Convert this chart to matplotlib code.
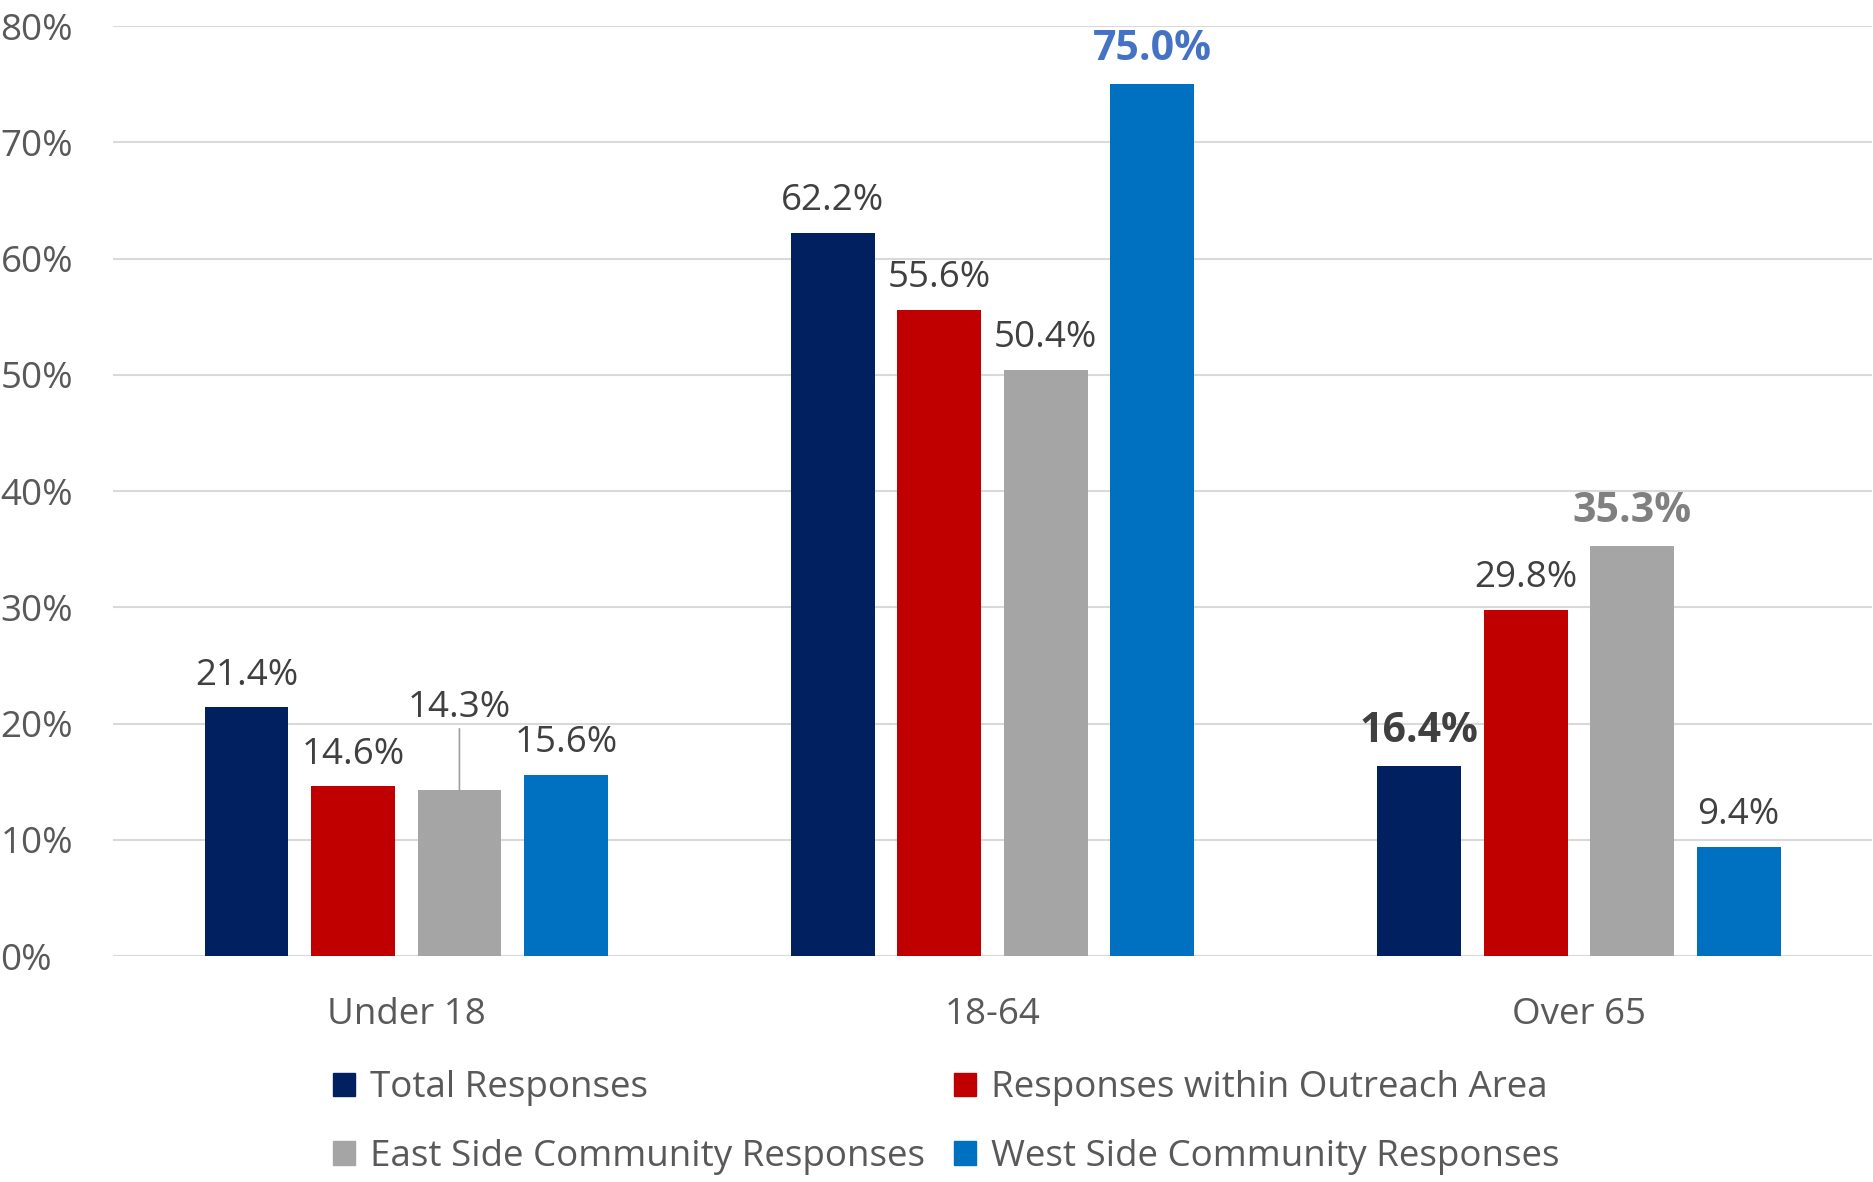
import matplotlib
matplotlib.use("Agg")
import matplotlib.pyplot as plt
from matplotlib.patches import Patch
import numpy as np

plt.rcParams['font.family'] = ['Open Sans', 'DejaVu Sans']

categories = ["Under 18", "18-64", "Over 65"]
series_names = ["Total Responses", "Responses within Outreach Area",
                "East Side Community Responses", "West Side Community Responses"]
total = [21.4, 62.2, 16.4]
outreach = [14.6, 55.6, 29.8]
east = [14.3, 50.4, 35.3]
west = [15.6, 75.0, 9.4]
yticks = [0, 10, 20, 30, 40, 50, 60, 70, 80]

series = [total, outreach, east, west]
colors = ["#002060", "#C00000", "#A5A5A5", "#0070C0"]

fig = plt.figure(figsize=(18.74, 11.82), dpi=100)
ax = fig.add_axes([0.0603, 0.191, 0.9387, 0.787])

x = np.arange(len(categories))
pitch = 0.1816
width = 0.143
label_col = "#404040"
fs = 26.5
bfs = 29.5
for i, (vals, c) in enumerate(zip(series, colors)):
    xs = x + (i - 1.5) * pitch
    ax.bar(xs, vals, width, color=c, zorder=3)
    for j, (xx, v) in enumerate(zip(xs, vals)):
        txt = f"{v:.1f}%"
        kw = dict(ha='center', va='bottom', fontsize=fs, color=label_col)
        if i == 3 and j == 1:
            kw.update(fontsize=bfs, fontweight='bold', color="#4472C4")
        elif i == 2 and j == 2:
            kw.update(fontsize=bfs, fontweight='bold', color="#808080")
        elif i == 0 and j == 2:
            kw.update(fontsize=bfs, fontweight='bold', color="#404040")
        if i == 2 and j == 0:
            ax.annotate(txt, xy=(xx, v), xytext=(xx, v + 5.5),
                        textcoords='data', ha='center', va='bottom',
                        fontsize=fs, color=label_col,
                        arrowprops=dict(arrowstyle='-', color='#A0A0A0', lw=1.2,
                                        shrinkA=0, shrinkB=0))
        else:
            ax.annotate(txt, xy=(xx, v), xytext=(0, 10), textcoords='offset points', **kw)

ax.set_xlim(-0.5, 2.5)
ax.set_ylim(0, 80)
ax.set_yticks(yticks)
ax.set_yticklabels([f"{t}%" for t in yticks])
ax.set_xticks(x)
ax.set_xticklabels(categories)
ax.tick_params(axis='y', length=0, labelsize=fs, labelcolor="#595959", pad=81)
ax.tick_params(axis='x', length=0, labelsize=fs, labelcolor="#595959", pad=29)
for lab in ax.get_yticklabels():
    lab.set_horizontalalignment('left')
ax.grid(axis='y', color='#D9D9D9', lw=1.5, zorder=0)
for s in ax.spines.values():
    s.set_visible(False)
ax.axhline(0, color='#D9D9D9', lw=1.5, zorder=2)

handles = [Patch(color=colors[k]) for k in [0, 2, 1, 3]]
labels = [series_names[k] for k in [0, 2, 1, 3]]
fig.legend(handles, labels, ncol=2, loc='lower left', bbox_to_anchor=(0.16, -0.022),
           frameon=False, fontsize=fs, labelcolor="#595959",
           handlelength=0.6, handleheight=0.6, handletextpad=0.4,
           columnspacing=0.8, labelspacing=0.88)

fig.savefig("out.png", dpi=100)
